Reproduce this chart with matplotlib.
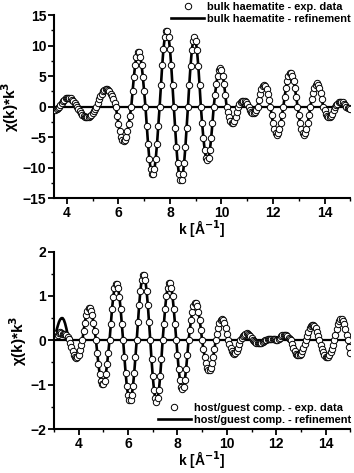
import numpy as np
import matplotlib
matplotlib.use("Agg")
import matplotlib.pyplot as plt
from matplotlib.ticker import MultipleLocator

plt.rcParams['font.family'] = ['Liberation Sans', 'DejaVu Sans']
plt.rcParams['font.weight'] = 'bold'

# bulk haematite, k grid 3.55 .. 15.00 step 0.05
k_bulk = np.round(np.arange(3.55, 15.001, 0.05), 2)
chi_bulk = [
    -0.5, -0.35, -0.18, 0.0,
    0.33, 0.65, 0.93, 1.17, 1.35, 1.46, 1.5, 1.46, 1.35, 1.17, 0.93, 0.65, 0.33, 0.0,
    -0.36, -0.72, -1.03, -1.30, -1.52, -1.66, -1.73, -1.73, -1.66, -1.52, -1.30, -1.03, -0.72, -0.36, 0.0,
    0.61, 1.19, 1.71, 2.15, 2.52, 2.76, 2.87, 2.87, 2.76, 2.52, 2.15, 1.71, 1.19, 0.61, 0.0,
    -1.48, -2.85, -4.05, -4.96, -5.53, -5.7, -5.53, -4.96, -4.05, -2.85, -1.48, 0.0,
    2.52, 4.86, 6.84, 8.19, 8.91, 8.91, 8.19, 6.84, 4.86, 2.52, 0.0,
    -3.14, -6.05, -8.51, -10.19, -11.09, -11.09, -10.19, -8.51, -6.05, -3.14, 0.0,
    3.5, 6.75, 9.5, 11.38, 12.38, 12.38, 11.38, 9.5, 6.75, 3.5, 0.0,
    -3.42, -6.59, -9.27, -11.1, -12.08, -12.08, -11.1, -9.27, -6.59, -3.42, 0.0,
    3.53, 6.73, 9.23, 10.83, 11.4, 10.83, 9.23, 6.73, 3.53, 0.0,
    -2.73, -5.19, -7.13, -8.36, -8.8, -8.36, -7.13, -5.19, -2.73, 0.0,
    1.95, 3.72, 5.1, 5.99, 6.3, 5.99, 5.1, 3.72, 1.95, 0.0,
    -0.92, -1.73, -2.35, -2.65, -2.65, -2.35, -1.73, -0.92, 0.0,
    0.38, 0.71, 0.92, 1.0, 0.92, 0.71, 0.38, 0.0,
    -0.48, -0.86, -1.07, -1.07, -0.86, -0.48, 0.0,
    1.12, 2.12, 2.92, 3.42, 3.6, 3.42, 2.92, 2.12, 1.12, 0.0,
    -1.43, -2.71, -3.73, -4.37, -4.6, -4.37, -3.73, -2.71, -1.43, 0.0,
    1.57, 3.02, 4.26, 5.1, 5.54, 5.54, 5.1, 4.26, 3.02, 1.57, 0.0,
    -1.43, -2.71, -3.73, -4.37, -4.6, -4.37, -3.73, -2.71, -1.43, 0.0,
    1.18, 2.24, 3.08, 3.61, 3.8, 3.61, 3.08, 2.24, 1.18, 0.0,
    -0.61, -1.15, -1.57, -1.76, -1.76, -1.57, -1.15, -0.61, 0.0,
    0.27, 0.51, 0.7, 0.78, 0.78, 0.7, 0.51, 0.27, 0.0,
    -0.15, -0.28, -0.38,
]
fit_bulk = chi_bulk

# host/guest compound, k grid 3.15 .. 15.00 step 0.05
k_host = np.round(np.arange(3.15, 15.001, 0.05), 2)
chi_host = [
    0.12, 0.16, 0.18, 0.17, 0.15, 0.14, 0.14, 0.12, 0.08, 0.02,
    -0.06, -0.15, -0.24, -0.32, -0.37, -0.40, -0.38, -0.32, -0.22, -0.11, 0.0,
    0.21, 0.4, 0.56, 0.67, 0.73, 0.73, 0.67, 0.56, 0.4, 0.21, 0.0,
    -0.28, -0.54, -0.76, -0.91, -0.99, -0.99, -0.91, -0.76, -0.54, -0.28, 0.0,
    0.36, 0.7, 0.98, 1.17, 1.28, 1.28, 1.17, 0.98, 0.7, 0.36, 0.0,
    -0.38, -0.73, -1.03, -1.24, -1.35, -1.35, -1.24, -1.03, -0.73, -0.38, 0.0,
    0.41, 0.8, 1.12, 1.35, 1.47, 1.47, 1.35, 1.12, 0.8, 0.41, 0.0,
    -0.43, -0.81, -1.12, -1.31, -1.38, -1.31, -1.12, -0.81, -0.43, 0.0,
    0.37, 0.71, 1.0, 1.19, 1.3, 1.3, 1.19, 1.0, 0.71, 0.37, 0.0,
    -0.34, -0.65, -0.89, -1.05, -1.1, -1.05, -0.89, -0.65, -0.34, 0.0,
    0.24, 0.46, 0.65, 0.78, 0.85, 0.85, 0.78, 0.65, 0.46, 0.24, 0.0,
    -0.19, -0.37, -0.52, -0.62, -0.67, -0.67, -0.62, -0.52, -0.37, -0.19, 0.0,
    0.15, 0.28, 0.38, 0.45, 0.47, 0.45, 0.38, 0.28, 0.15, 0.0,
    -0.09, -0.18, -0.24, -0.29, -0.3, -0.29, -0.24, -0.18, -0.09, 0.0,
    0.05, 0.09, 0.13, 0.15, 0.16, 0.15, 0.13, 0.09, 0.05, 0.0,
    -0.02, -0.04, -0.05, -0.06, -0.06, -0.06, -0.05, -0.04, -0.02, 0.0,
    0.01, 0.02, 0.02, 0.03, 0.03, 0.03, 0.02, 0.02, 0.01, 0.0,
    0.03, 0.06, 0.09, 0.11, 0.12, 0.12, 0.11, 0.09, 0.06, 0.03, 0.0,
    -0.09, -0.17, -0.24, -0.3, -0.33, -0.34, -0.33, -0.3, -0.24, -0.17, -0.09, 0.0,
    0.1, 0.19, 0.27, 0.32, 0.35, 0.35, 0.32, 0.27, 0.19, 0.1, 0.0,
    -0.1, -0.19, -0.27, -0.33, -0.37, -0.38, -0.37, -0.33, -0.27, -0.19, -0.1, 0.0,
    0.13, 0.25, 0.36, 0.43, 0.47, 0.47, 0.43, 0.36, 0.25, 0.13, 0.0,
    -0.15, -0.28,
]
# refinement differs from data only at the low-k start (3.10 .. 3.60)
k_fit_head = [3.10, 3.15, 3.20, 3.25, 3.30, 3.35, 3.40, 3.45, 3.50, 3.55, 3.60]
fit_head = [0.22, 0.32, 0.41, 0.47, 0.5, 0.5, 0.46, 0.38, 0.27, 0.14, 0.03]
k_fit_host = np.concatenate([k_fit_head, k_host[10:]])
fit_host = np.concatenate([fit_head, chi_host[10:]])

fig = plt.figure(figsize=(3.54, 4.73), dpi=100)


def style(ax, xlim, ylim, ymaj, ymin):
    ax.set_xlim(*xlim)
    ax.set_ylim(*ylim)
    ax.xaxis.set_major_locator(MultipleLocator(2))
    ax.xaxis.set_minor_locator(MultipleLocator(1))
    ax.yaxis.set_major_locator(MultipleLocator(ymaj))
    ax.yaxis.set_minor_locator(MultipleLocator(ymin))
    for s in ['top', 'right']:
        ax.spines[s].set_visible(False)
    for s in ['left', 'bottom']:
        ax.spines[s].set_linewidth(1.5)
    ax.tick_params(which='major', direction='out', length=4, width=1.3, labelsize=10, pad=1.5)
    ax.tick_params(which='minor', direction='out', length=2.5, width=1.0)
    for lab in ax.get_xticklabels() + ax.get_yticklabels():
        lab.set_fontweight('bold')
    ax.set_xlabel('k [Å$^{\\mathbf{-1}}$]', fontsize=10, fontweight='bold', labelpad=-1)
    ax.set_ylabel('χ(k)*k$^{\\mathbf{3}}$', fontsize=11, fontweight='bold', labelpad=1)
    ax.axhline(0, color='black', lw=1.6, zorder=1)


mk = dict(ls='none', marker='o', ms=4.6, mfc='white', mec='black', mew=0.7, zorder=3)
leg = dict(frameon=False, handlelength=3.0, handletextpad=0.3, labelspacing=0.15,
           borderpad=0, borderaxespad=0, prop={'weight': 'bold', 'size': 7.9})

# top panel
ax1 = fig.add_axes([0.1525, 0.581, 0.837, 0.387])
ax1.plot(k_bulk, fit_bulk, color='black', lw=1.9, zorder=2, label='bulk haematite - refinement')
ax1.plot(k_bulk, chi_bulk, label='bulk haematite - exp. data', **mk)
style(ax1, (3.5, 15), (-15, 15), 5, 2.5)
h, l = ax1.get_legend_handles_labels()
ax1.legend(h[::-1], l[::-1], loc='upper right', bbox_to_anchor=(1.003, 1.071), **leg)

# bottom panel
ax2 = fig.add_axes([0.1525, 0.093, 0.837, 0.375])
ax2.plot(k_fit_host, fit_host, color='black', lw=1.9, zorder=2, label='host/guest comp. - refinement')
ax2.plot(k_host, chi_host, label='host/guest comp. - exp. data', **mk)
style(ax2, (3, 15), (-2, 2), 1, 0.5)
h, l = ax2.get_legend_handles_labels()
ax2.legend(h[::-1], l[::-1], loc='lower right', bbox_to_anchor=(1.003, 0.025), **leg)

fig.savefig('out.png', dpi=100)
